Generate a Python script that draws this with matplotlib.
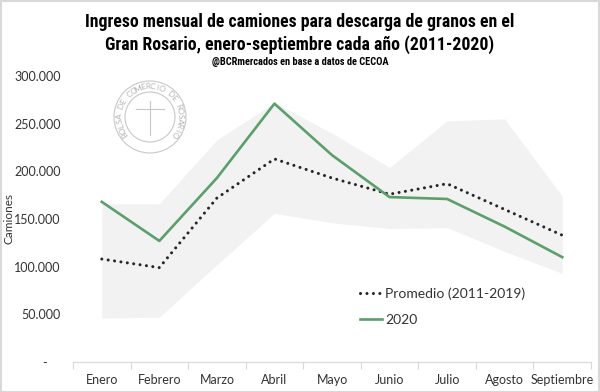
import numpy as np
import matplotlib
matplotlib.use("Agg")
import matplotlib.pyplot as plt
from matplotlib.ticker import FuncFormatter

meses = ["Enero", "Febrero", "Marzo", "Abril", "Mayo", "Junio", "Julio", "Agosto", "Septiembre"]
promedio = [108000, 99000, 172000, 213000, 193000, 176000, 187000, 160000, 133000]
anio_2020 = [168000, 127000, 193000, 271000, 217000, 173000, 171000, 142000, 110000]
rango_max = [166000, 166000, 233000, 272000, 240000, 204000, 253000, 255000, 174000]
rango_min = [46000, 47000, 102000, 156000, 146000, 140000, 141000, 116000, 93000]

plt.rcParams['font.family'] = ['Lato', 'DejaVu Sans']
titulo_font = ['Roboto Condensed', 'Liberation Sans Narrow', 'Roboto', 'DejaVu Sans']

fig = plt.figure(figsize=(6, 3.92), dpi=100)
ax = fig.add_axes([73/600, 30/392, 518/600, 286/392])

x = np.arange(len(meses))
ax.fill_between(x, rango_min, rango_max, color='#f2f2f2', lw=0, zorder=1)
ax.plot(x, promedio, color='#262626', lw=2.2, linestyle=(0, (0.01, 2.1)),
        dash_capstyle='round', label='Promedio (2011-2019)', zorder=3)
ax.plot(x, anio_2020, color='#5b9f6b', lw=1.9, label='2020', zorder=4)

ax.set_xlim(-0.5, len(meses) - 0.5)
ax.set_ylim(0, 300000)
ax.set_yticks(np.arange(0, 300001, 50000))

def fmt(v, pos):
    if v == 0:
        return '-    '
    return f"{int(v):,}".replace(',', '.')

ax.yaxis.set_major_formatter(FuncFormatter(fmt))
ax.tick_params(axis='y', length=0, pad=9, labelsize=9, labelcolor='#333333')
ax.set_xticks(x)
ax.set_xticklabels(meses)
ax.set_xticks(np.arange(-0.5, len(meses), 1), minor=True)
ax.tick_params(axis='x', which='major', length=0, pad=9, labelsize=9, labelcolor='#333333')
ax.tick_params(axis='x', which='minor', length=5, color='#d9d9d9', width=0.8)

for s in ['top', 'right', 'left']:
    ax.spines[s].set_visible(False)
ax.spines['bottom'].set_color('#d9d9d9')
ax.spines['bottom'].set_linewidth(0.8)

ax.set_ylabel('Camiones', fontsize=8.5, color='#333333')
ax.yaxis.set_label_coords(-0.112, 0.5)

leg = ax.legend(loc='upper left', bbox_to_anchor=(0.53, 0.305), frameon=False,
                fontsize=10, handlelength=1.6, handletextpad=0.2, labelspacing=1.0)
for t in leg.get_texts():
    t.set_color('#333333')

fig.text(0.5, 0.968, "Ingreso mensual de camiones para descarga de granos en el\nGran Rosario, enero-septiembre cada año (2011-2020)",
         ha='center', va='top', fontsize=12.8, fontweight='bold', linespacing=1.3,
         family=titulo_font)
fig.text(0.5, 0.842, "@BCRmercados en base a datos de CECOA", ha='center', va='center',
         fontsize=7.5, fontweight='bold', family=titulo_font)

# marca de agua (logo)
ov = fig.add_axes([0, 0, 1, 1], zorder=0)
ov.set_xlim(0, 600)
ov.set_ylim(392, 0)
ov.axis('off')
ov.patch.set_alpha(0)
cx, cy = 150, 117
ov.add_patch(plt.Circle((cx, cy), 36, fill=False, ec='#c8c8c8', lw=0.8))
ov.add_patch(plt.Circle((cx, cy), 25, fill=False, ec='#c8c8c8', lw=0.8))
texto = "BOLSA DE COMERCIO DE ROSARIO"
angs = np.linspace(215, -35, len(texto))
for ch, a in zip(texto, angs):
    r = np.deg2rad(a)
    ov.text(cx + 30.5 * np.cos(r), cy - 30.5 * np.sin(r), ch, fontsize=6, color='#b5b5b5',
            ha='center', va='center', rotation=a - 90)
ov.plot([cx - 14, cx + 14], [cy - 8, cy - 8], color='#c8c8c8', lw=0.8)
ov.plot([cx, cx], [cy - 16, cy + 18], color='#c8c8c8', lw=0.8)

fig.patches.append(plt.Rectangle((0.001, 0.001), 0.997, 0.997, transform=fig.transFigure,
                                 fill=False, ec='#d9d9d9', lw=1.5))

fig.savefig('out.png', dpi=100)
